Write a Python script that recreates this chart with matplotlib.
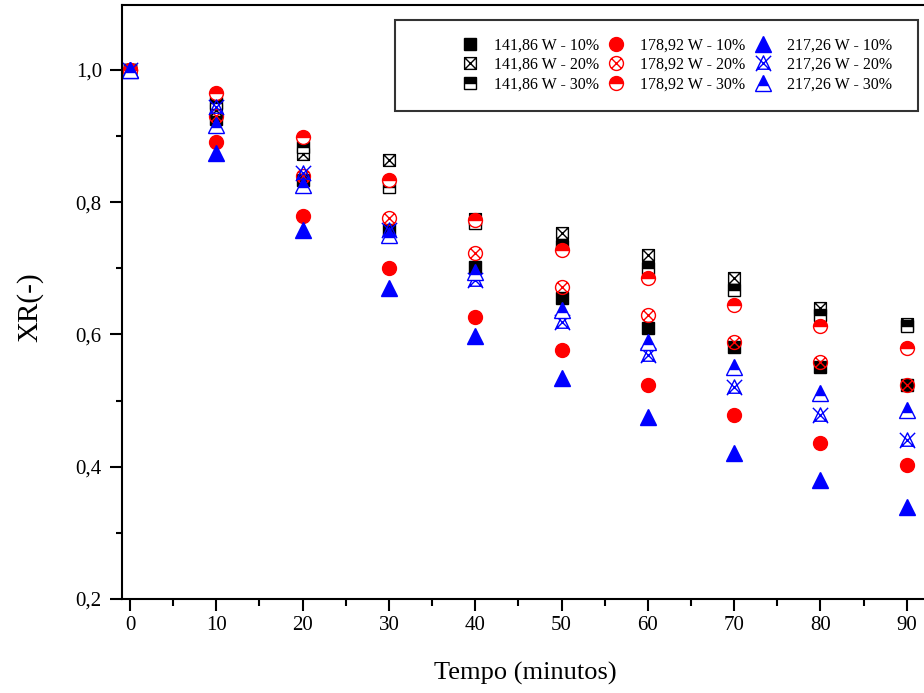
import numpy as np
import matplotlib
matplotlib.use("Agg")
import matplotlib.pyplot as plt
from matplotlib.path import Path
from matplotlib.patches import Rectangle
from matplotlib.ticker import MultipleLocator, FuncFormatter

plt.rcParams['font.family'] = ['Liberation Serif', 'DejaVu Serif']

tempo = [0, 10, 20, 30, 40, 50, 60, 70, 80, 90]
s141_10 = [1.0, 0.925, 0.834, 0.758, 0.702, 0.655, 0.610, 0.581, 0.551, 0.524]
s141_20 = [1.0, 0.940, 0.872, 0.864, 0.775, 0.753, 0.720, 0.685, 0.640, 0.615]
s141_30 = [1.0, 0.950, 0.884, 0.823, 0.769, 0.733, 0.700, 0.667, 0.630, 0.612]
s178_10 = [1.0, 0.891, 0.779, 0.700, 0.627, 0.577, 0.524, 0.478, 0.436, 0.403]
s178_20 = [1.0, 0.930, 0.840, 0.776, 0.723, 0.672, 0.630, 0.589, 0.559, 0.524]
s178_30 = [1.0, 0.965, 0.899, 0.834, 0.773, 0.728, 0.685, 0.645, 0.612, 0.580]
s217_10 = [1.0, 0.875, 0.758, 0.670, 0.597, 0.534, 0.475, 0.421, 0.380, 0.339]
s217_20 = [1.0, 0.944, 0.844, 0.758, 0.683, 0.619, 0.569, 0.521, 0.478, 0.441]
s217_30 = [1.0, 0.917, 0.826, 0.750, 0.695, 0.637, 0.589, 0.550, 0.512, 0.486]

labels = ["141,86 W - 10%", "141,86 W - 20%", "141,86 W - 30%",
          "178,92 W - 10%", "178,92 W - 20%", "178,92 W - 30%",
          "217,26 W - 10%", "217,26 W - 20%", "217,26 W - 30%"]

# custom markers
def compound(*parts):
    return Path.make_compound_path(*parts)

sq = Path([(-1, -1), (1, -1), (1, 1), (-1, 1), (-1, -1)],
          [Path.MOVETO, Path.LINETO, Path.LINETO, Path.LINETO, Path.CLOSEPOLY])
diag = Path([(-1, -1), (1, 1), (-1, 1), (1, -1)],
            [Path.MOVETO, Path.LINETO, Path.MOVETO, Path.LINETO])
xsquare = compound(sq, diag)

circ = Path.unit_circle()
c = 0.707
cdiag = Path([(-c, -c), (c, c), (-c, c), (c, -c)],
             [Path.MOVETO, Path.LINETO, Path.MOVETO, Path.LINETO])
xcircle = compound(circ, cdiag)

tri = Path([(0, 1), (-0.85, -0.75), (0.85, -0.75), (0, 1)],
           [Path.MOVETO, Path.LINETO, Path.LINETO, Path.CLOSEPOLY])
tdiag = Path([(-1, 1), (1, -1), (1, 1), (-1, -1)],
             [Path.MOVETO, Path.LINETO, Path.MOVETO, Path.LINETO])
xtri = compound(tri, tdiag)

W, H = 924, 693
fig = plt.figure(figsize=(W / 100, H / 100), dpi=100)
x_left, x_right = -0.93, 93.0
ax_l = 122 / W
ax_b = (H - 599) / H
ax_t = (H - 5) / H
px_per_unit = 8.63
ax_w = (x_right - x_left) * px_per_unit / W
ax = fig.add_axes([ax_l, ax_b, ax_w, ax_t - ax_b])
ax_hpx = (ax_t - ax_b) * H
ax_wpx = ax_w * W

series = [
    (s141_10, dict(marker='s', color='black', mfc='black', mec='black', ms=8.5)),
    (s141_20, dict(marker=xsquare, color='black', mfc='white', mec='black', ms=8.5, mew=1.0)),
    (s141_30, dict(marker='s', color='black', fillstyle='top', mfc='black', mfcalt='white', mec='black', ms=8.5, mew=1.0)),
    (s178_10, dict(marker='o', color='red', mfc='red', mec='red', ms=10)),
    (s178_20, dict(marker=xcircle, color='red', mfc='none', mec='red', ms=10, mew=1.0)),
    (s178_30, dict(marker='o', color='red', fillstyle='top', mfc='red', mfcalt='white', mec='red', ms=10, mew=1.0)),
    (s217_10, dict(marker='^', color='blue', mfc='blue', mec='blue', ms=11)),
    (s217_20, dict(marker=xtri, color='blue', mfc='none', mec='blue', ms=11, mew=1.0)),
    (s217_30, dict(marker='^', color='blue', fillstyle='top', mfc='blue', mfcalt='white', mec='blue', ms=11, mew=1.0)),
]

handles = []
for (vals, kw), lab in zip(series, labels):
    kw = dict(kw)
    if 'mfcalt' in kw:
        kw['markerfacecoloralt'] = kw.pop('mfcalt')
    h, = ax.plot(tempo, vals, linestyle='none', label=lab, **kw)
    handles.append(h)

ax.set_xlim(x_left, x_right)
ax.set_ylim(0.2, 1.098)
ax.xaxis.set_major_locator(MultipleLocator(10))
ax.xaxis.set_minor_locator(MultipleLocator(5))
ax.yaxis.set_major_locator(MultipleLocator(0.2))
ax.yaxis.set_minor_locator(MultipleLocator(0.1))
ax.yaxis.set_major_formatter(FuncFormatter(lambda v, p: f"{v:.1f}".replace('.', ',')))
ax.set_xticks([t for t in tempo])
for s in ax.spines.values():
    s.set_linewidth(1.5)
ax.tick_params(which='major', direction='out', length=8.5, width=1.5, labelsize=15)
ax.tick_params(axis='x', which='major', pad=4)
ax.tick_params(axis='y', which='major', pad=6)
ax.tick_params(axis='x', which='minor', direction='out', length=5, width=1.5)
ax.tick_params(axis='y', which='minor', direction='out', length=4, width=1.5)

ax.set_xlabel("Tempo (minutos)", fontsize=19)
ax.set_ylabel("XR(-)", fontsize=21)
ax.xaxis.set_label_coords((525 - 122) / ax_wpx, -(662 - 599) / ax_hpx)
ax.yaxis.set_label_coords(-(122 - 30) / ax_wpx, (599 - 307) / ax_hpx)
ax.yaxis.label.set_va('center')
ax.xaxis.label.set_va('top')

leg = fig.legend(handles=handles, labels=labels, ncol=3, frameon=False,
                 loc='center', bbox_to_anchor=(677 / W, 1 - 65 / H),
                 fontsize=11.5, handlelength=1.0, handletextpad=1.0,
                 columnspacing=0.6, labelspacing=0.2, borderpad=0.2)

fig.patches.append(Rectangle((395 / W, 1 - 111 / H), (918 - 395) / W, (111 - 20) / H,
                             transform=fig.transFigure, fill=False,
                             edgecolor='#333333', linewidth=1.5))

fig.savefig("out.png", dpi=100)
